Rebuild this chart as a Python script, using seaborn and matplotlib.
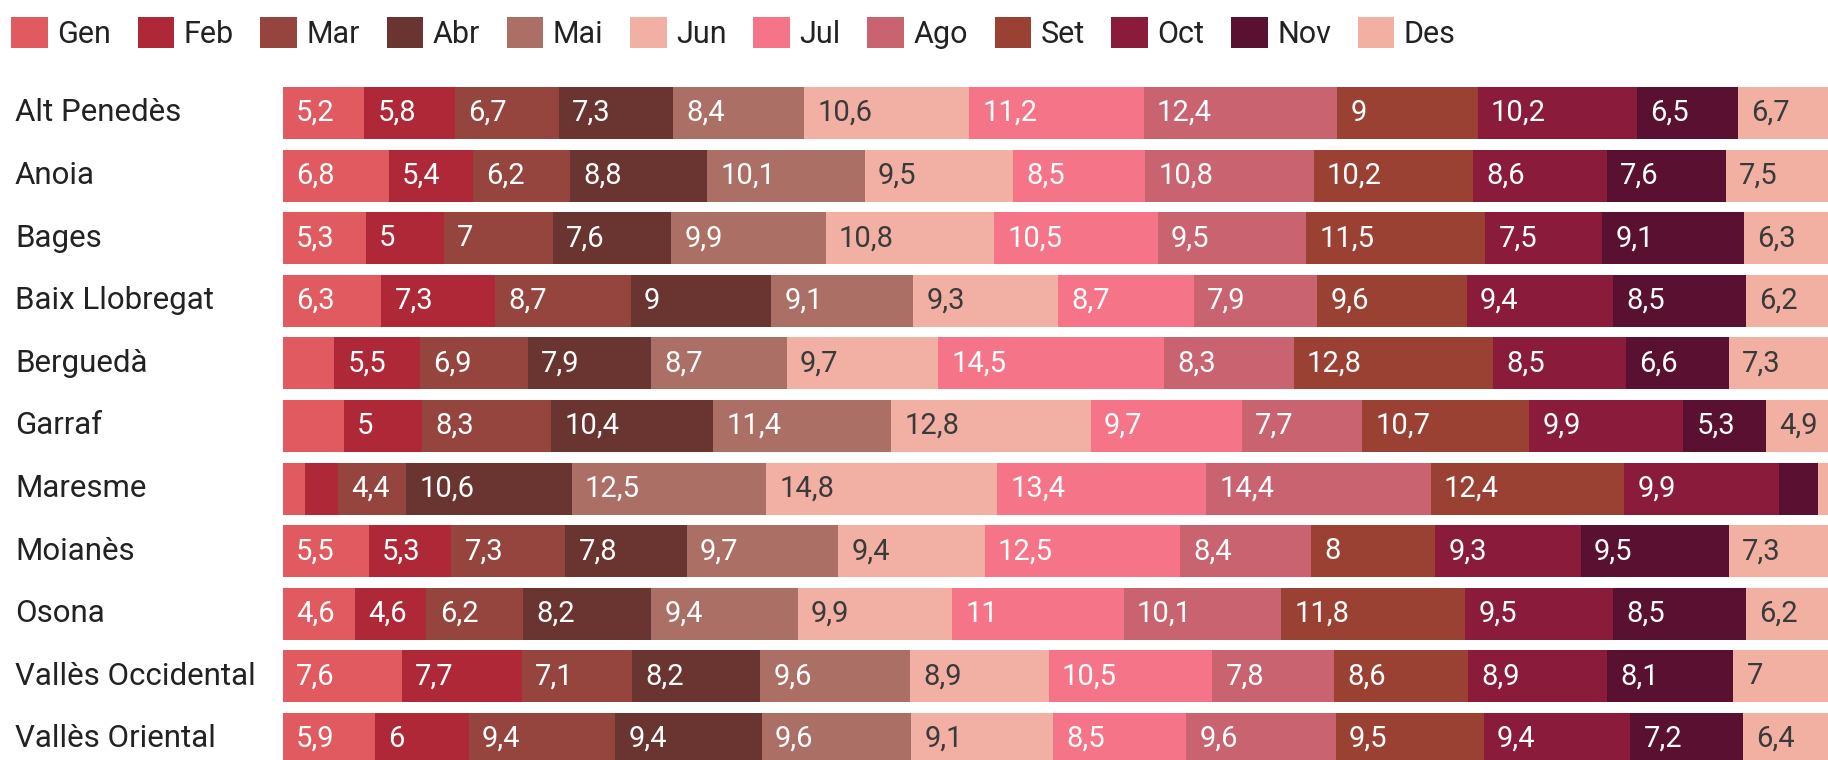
import numpy as np
import pandas as pd
import matplotlib
matplotlib.use("Agg")
import matplotlib.pyplot as plt
from matplotlib.patches import Patch
from matplotlib.transforms import blended_transform_factory
import seaborn as sns

# months and colours
mesos = ["Gen", "Feb", "Mar", "Abr", "Mai", "Jun", "Jul", "Ago", "Set", "Oct", "Nov", "Des"]
colors = ["#e05a5f", "#ae2837", "#95453e", "#6a3430", "#ab6f66", "#f2afa4",
          "#f57488", "#c8636f", "#9b4133", "#8a1b3b", "#5a1030", "#f2b0a3"]

comarques = ["Alt Penedès", "Anoia", "Bages", "Baix Llobregat", "Berguedà", "Garraf",
             "Maresme", "Moianès", "Osona", "Vallès Occidental", "Vallès Oriental"]

# % per month, Gen..Des
alt_penedes = [5.2, 5.8, 6.7, 7.3, 8.4, 10.6, 11.2, 12.4, 9, 10.2, 6.5, 6.7]
anoia = [6.8, 5.4, 6.2, 8.8, 10.1, 9.5, 8.5, 10.8, 10.2, 8.6, 7.6, 7.5]
bages = [5.3, 5, 7, 7.6, 9.9, 10.8, 10.5, 9.5, 11.5, 7.5, 9.1, 6.3]
baix_llobregat = [6.3, 7.3, 8.7, 9, 9.1, 9.3, 8.7, 7.9, 9.6, 9.4, 8.5, 6.2]
bergueda = [3.3, 5.5, 6.9, 7.9, 8.7, 9.7, 14.5, 8.3, 12.8, 8.5, 6.6, 7.3]
garraf = [3.9, 5, 8.3, 10.4, 11.4, 12.8, 9.7, 7.7, 10.7, 9.9, 5.3, 4.9]
maresme = [1.4, 2.1, 4.4, 10.6, 12.5, 14.8, 13.4, 14.4, 12.4, 9.9, 2.5, 1.6]
moianes = [5.5, 5.3, 7.3, 7.8, 9.7, 9.4, 12.5, 8.4, 8, 9.3, 9.5, 7.3]
osona = [4.6, 4.6, 6.2, 8.2, 9.4, 9.9, 11, 10.1, 11.8, 9.5, 8.5, 6.2]
valles_occ = [7.6, 7.7, 7.1, 8.2, 9.6, 8.9, 10.5, 7.8, 8.6, 8.9, 8.1, 7]
valles_or = [5.9, 6, 9.4, 9.4, 9.6, 9.1, 8.5, 9.6, 9.5, 9.4, 7.2, 6.4]

df = pd.DataFrame([alt_penedes, anoia, bages, baix_llobregat, bergueda, garraf,
                   maresme, moianes, osona, valles_occ, valles_or],
                  index=comarques, columns=mesos)
cum = df.cumsum(axis=1)
starts = cum - df

sns.set_style("white")
plt.rcParams["font.family"] = ["Roboto", "DejaVu Sans"]

W, H = 1828, 760
fig = plt.figure(figsize=(W / 100, H / 100), dpi=100)
# axes placed in pixels: bars start at x=283, rows 62.6px apart
ax = fig.add_axes([283 / W, -10.3 / H, (W - 283) / W, 688.6 / H])

# stacked bars: draw cumulative totals from last month to first
for k in range(len(mesos) - 1, -1, -1):
    sns.barplot(x=cum[mesos[k]].values, y=comarques, orient="h", color=colors[k],
                saturation=1, width=0.83, errorbar=None, linewidth=0, ax=ax)

ax.set_xlim(0, 99.07)
ax.set_ylim(10.5, -0.5)
ax.set_xlabel("")
ax.set_ylabel("")
ax.tick_params(left=False, bottom=False, labelleft=False, labelbottom=False)
sns.despine(ax=ax, left=True, bottom=True)

# value labels
dark = {"Jun", "Des"}
for i, c in enumerate(comarques):
    for m in mesos:
        v = df.loc[c, m]
        if v < 4:
            continue
        txt = f"{v:g}".replace(".", ",")
        ax.annotate(txt, xy=(starts.loc[c, m], i), xytext=(9.5, 0),
                    textcoords="offset points", ha="left", va="center",
                    fontsize=21, color="#3a3a3a" if m in dark else "white")

# row names
trans = blended_transform_factory(fig.transFigure, ax.transData)
for i, c in enumerate(comarques):
    ax.text(15 / W, i, c, transform=trans, ha="left", va="center",
            fontsize=22.5, color="#222222")

handles = [Patch(facecolor=colors[k], edgecolor="none", label=mesos[k]) for k in range(12)]
fig.legend(handles=handles, ncol=12, loc="upper left", bbox_to_anchor=(11 / W, 1 - 17 / H),
           frameon=False, fontsize=22, handlelength=1.2, handleheight=1.2,
           handletextpad=0.3, columnspacing=0.88, borderpad=0, borderaxespad=0,
           labelcolor="#222222")

plt.savefig("out.png", dpi=100)
